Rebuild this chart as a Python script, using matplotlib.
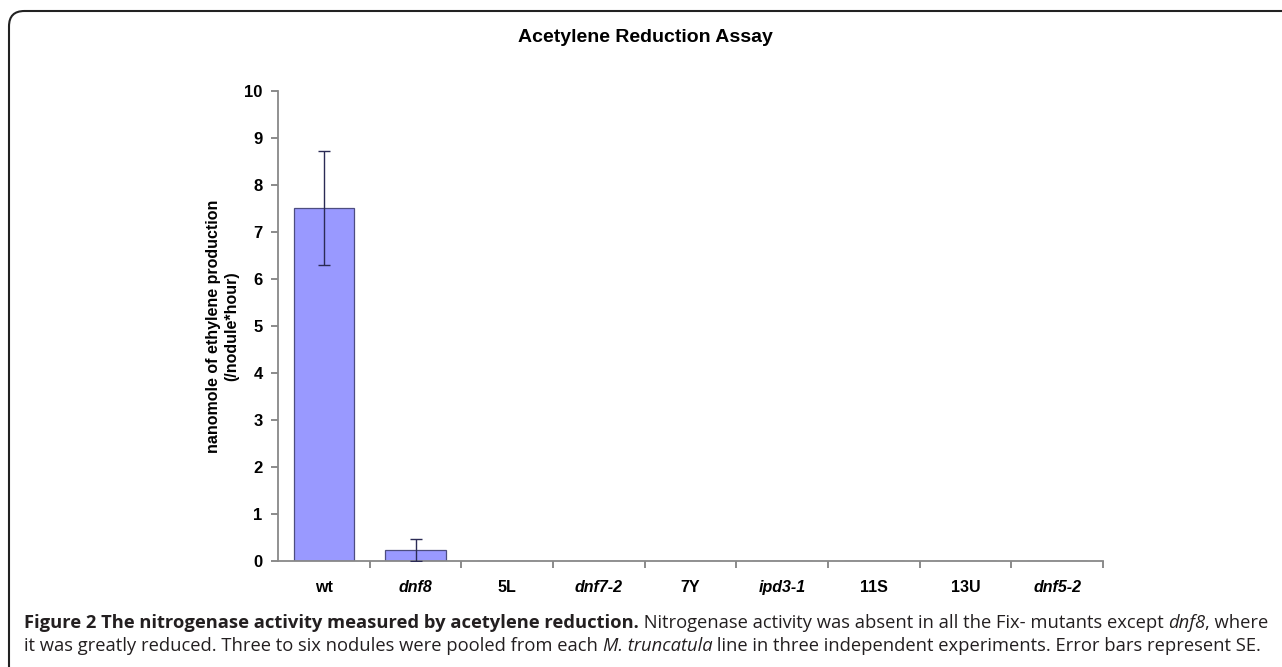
import matplotlib
matplotlib.use('Agg')
import matplotlib.pyplot as plt
from matplotlib.patches import FancyBboxPatch
import numpy as np

# data
categories = ['wt', 'dnf8', '5L', 'dnf7-2', '7Y', 'ipd3-1', '11S', '13U', 'dnf5-2']
italic_labels = ['dnf8', 'dnf7-2', 'ipd3-1', 'dnf5-2']
values = [7.51, 0.24, 0, 0, 0, 0, 0, 0, 0]
errors = [1.21, 0.23, 0, 0, 0, 0, 0, 0, 0]

title = 'Acetylene Reduction Assay'
ylabel = 'nanomole of ethylene production\n(/nodule*hour)'
caption1 = [('Figure 2 The nitrogenase activity measured by acetylene reduction.', 'bold', 'normal'),
            (' Nitrogenase activity was absent in all the Fix- mutants except ', 'normal', 'normal'),
            ('dnf8', 'normal', 'italic'),
            (', where', 'normal', 'normal')]
caption2 = [('it was greatly reduced. Three to six nodules were pooled from each ', 'normal', 'normal'),
            ('M. truncatula', 'normal', 'italic'),
            (' line in three independent experiments. Error bars represent SE.', 'normal', 'normal')]

plt.rcParams['font.family'] = ['Liberation Sans', 'DejaVu Sans']

W, H = 1282, 667
fig = plt.figure(figsize=(W / 100, H / 100), dpi=100)
fig.patch.set_facecolor('white')

# rounded frame around the figure panel
frame = FancyBboxPatch((9 / W, -20 / H), (W + 40) / W, (H - 11 + 20) / H,
                       boxstyle='round,pad=0,rounding_size=0.012',
                       transform=fig.transFigure, facecolor='none',
                       edgecolor='#222222', linewidth=1.5, mutation_aspect=W / H)
fig.patches.append(frame)

ax = fig.add_axes([278 / W, (H - 561) / H, (1103 - 278) / W, (561 - 91) / H])
x = np.arange(len(categories))
ax.bar(x, values, width=0.66, color='#9999ff', edgecolor='#4d4d80', linewidth=0.9, zorder=2)

ex = [xi for xi, e in zip(x, errors) if e > 0]
ev = [v for v, e in zip(values, errors) if e > 0]
ee = [e for e in errors if e > 0]
ax.errorbar(ex, ev, yerr=ee, fmt='none', ecolor='#2b2b55', elinewidth=1.0,
            capsize=4, capthick=1.0, zorder=3)

ax.set_xlim(-0.5, len(categories) - 0.5)
ax.set_ylim(0, 10)
ax.set_yticks(range(0, 11))
ax.set_xticks(x)
ax.set_xticklabels(categories)
ax.set_xticks(x + 0.5, minor=True)
for lab in ax.get_xticklabels():
    lab.set_fontweight('bold')
    lab.set_fontsize(11.5)
    if lab.get_text() in italic_labels:
        lab.set_fontstyle('italic')
for lab in ax.get_yticklabels():
    lab.set_fontweight('bold')
    lab.set_fontsize(12)

ax.tick_params(axis='x', which='major', length=0, pad=14)
ax.tick_params(axis='x', which='minor', length=5, color='#777777', width=1.2, direction='out')
ax.tick_params(axis='y', length=5, color='#777777', width=1.2, direction='out', pad=6)
for s in ['top', 'right']:
    ax.spines[s].set_visible(False)
for s in ['left', 'bottom']:
    ax.spines[s].set_color('#888888')
    ax.spines[s].set_linewidth(1.3)

ax.set_ylabel(ylabel, fontsize=11.5, fontweight='bold', labelpad=4, linespacing=1.2)
fig.text(645 / W, 1 - 37 / H, title, ha='center', va='center', fontsize=14, fontweight='bold')

# caption, pieced together run by run
fig.canvas.draw()
renderer = fig.canvas.get_renderer()
cap_fonts = ['Open Sans', 'DejaVu Sans']


def put_line(pieces, y, size):
    xpos = 24
    for txt, weight, style in pieces:
        t = fig.text(xpos / W, 1 - y / H, txt, ha='left', va='baseline', fontsize=size,
                     fontweight=weight, fontstyle=style, family=cap_fonts, color='#231f20')
        bb = t.get_window_extent(renderer)
        xpos += bb.width
    return xpos


put_line(caption1, 628, 13.2)
put_line(caption2, 651, 13.2)

fig.savefig('out.png', dpi=100)
